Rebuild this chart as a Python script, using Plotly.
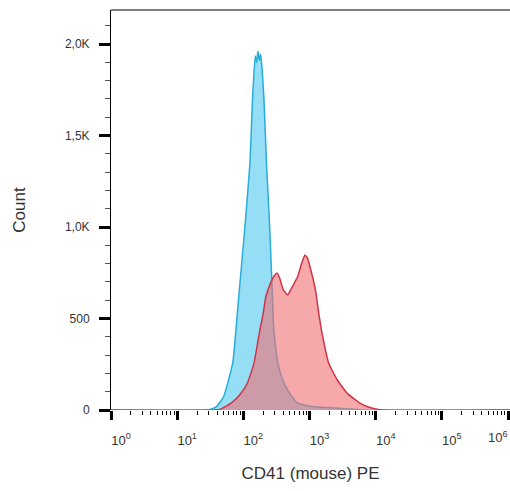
import plotly.graph_objects as go

# ---- data (log10 of CD41 PE intensity, counts) ----
blue_log = [0.0, 1.40, 1.51, 1.60, 1.70, 1.84, 1.93, 2.02, 2.10, 2.14, 2.18, 2.20, 2.22, 2.24, 2.26, 2.28,
            2.31, 2.35, 2.40, 2.44, 2.46, 2.52, 2.60, 2.67, 2.75, 2.82, 3.0, 3.3, 3.6, 3.8, 6.1]
blue_count = [0, 0, 4, 20, 71, 257, 617, 984, 1350, 1710, 1935, 1900, 1960, 1910, 1945, 1880,
              1710, 1350, 984, 617, 437, 257, 160, 109, 65, 38, 20, 12, 6, 0, 0]

red_log = [0.0, 1.55, 1.66, 1.81, 1.95, 2.06, 2.16, 2.25, 2.30, 2.34, 2.41, 2.47, 2.51, 2.55, 2.60,
           2.67, 2.72, 2.78, 2.82, 2.88, 2.93, 2.97, 3.02, 3.09, 3.14, 3.18, 3.23, 3.29, 3.42,
           3.57, 3.77, 3.90, 4.02, 4.10, 6.1]
red_count = [0, 0, 5, 36, 85, 146, 255, 437, 528, 619, 692, 735, 749, 720, 660,
             628, 660, 700, 728, 800, 847, 830, 765, 656, 528, 437, 346, 255, 164,
             91, 36, 15, 4, 0, 0]

y_tickvals = [0, 500, 1000, 1500, 2000]
y_ticktext = ["0", "500", "1,0K", "1,5K", "2,0K"]
x_tickvals = [1, 10, 100, 1000, 10000, 100000, 1000000]
x_ticktext = ["10<sup>0</sup>", "10<sup>1</sup>", "10<sup>2</sup>", "10<sup>3</sup>",
              "10<sup>4</sup>", "10<sup>5</sup>", "10<sup>6</sup>"]

fig = go.Figure()
fig.add_trace(go.Scatter(
    x=[10 ** v for v in blue_log], y=blue_count, mode="lines",
    line=dict(color="#27aed8", width=1.5, shape="spline", smoothing=0.4),
    fill="tozeroy", fillcolor="rgba(80,200,240,0.6)", hoverinfo="skip"))
fig.add_trace(go.Scatter(
    x=[10 ** v for v in red_log], y=red_count, mode="lines",
    line=dict(color="#cf3545", width=1.5, shape="spline", smoothing=0.4),
    fill="tozeroy", fillcolor="rgba(240,110,115,0.6)", hoverinfo="skip"))

# last decade label sits inside the right edge (as in the reference)
shown_text = x_ticktext[:-1] + [""]

fig.update_layout(
    width=510, height=491,
    margin=dict(l=111, r=0, t=10, b=81),
    paper_bgcolor="white", plot_bgcolor="white",
    showlegend=False,
    font=dict(family="Liberation Sans, Arial, sans-serif", color="#222"),
    xaxis=dict(
        type="log", range=[0, 6.03], automargin=False,
        tickvals=x_tickvals, ticktext=shown_text,
        ticks="outside", ticklen=9, tickwidth=3, tickcolor="black",
        tickfont=dict(size=13, color="#333"),
        ticklabelshift=10, ticklabelstandoff=9, ticklabeloverflow="allow",
        minor=dict(ticks="outside", ticklen=4, tickwidth=1, tickcolor="black", dtick="D1"),
        showgrid=False, zeroline=False, showline=False,
        title=dict(text="CD41 (mouse) PE", font=dict(size=17, color="#333"), standoff=20),
    ),
    yaxis=dict(
        range=[0, 2186], automargin=False,
        tickvals=y_tickvals, ticktext=y_ticktext,
        ticks="outside", ticklen=11, tickwidth=3, tickcolor="black",
        tickfont=dict(size=12, color="#333"),
        ticklabelstandoff=7,
        minor=dict(ticks="outside", ticklen=5, tickwidth=1, tickcolor="#555", dtick=100),
        showgrid=False, zeroline=False, showline=True, linecolor="black", linewidth=1,
        mirror=False,
        title=dict(text="Count", font=dict(size=17, color="#333"), standoff=34),
    ),
)
fig.add_annotation(
    x=6, xref="x", y=0, yref="y", text=x_ticktext[-1], showarrow=False,
    xanchor="right", yanchor="top", xshift=2, yshift=-17,
    font=dict(size=13, color="#333", family="Liberation Sans, Arial, sans-serif"),
)
# top border
fig.add_shape(type="line", xref="paper", yref="paper", x0=0, x1=1, y0=1, y1=1,
              line=dict(color="black", width=1))

fig.write_html(
    "out.html",
    config={"displayModeBar": False},
    post_script="document.body.style.margin='0';document.body.style.overflow='hidden';",
)
